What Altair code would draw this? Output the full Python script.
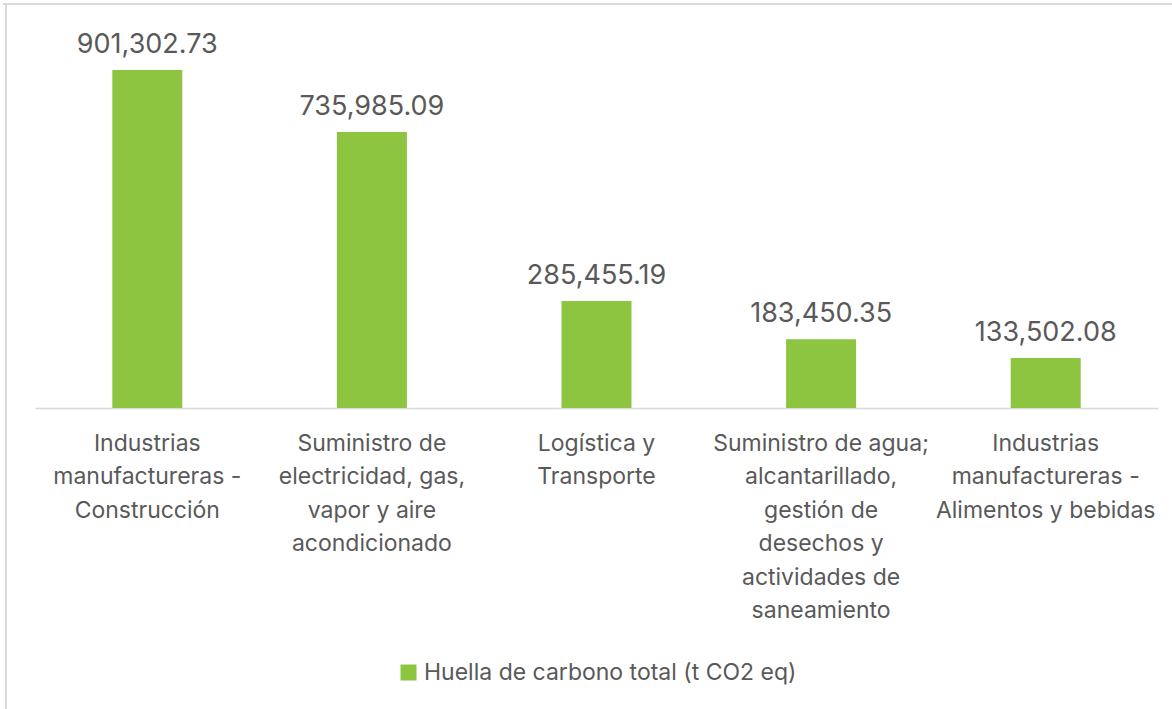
import altair as alt
import pandas as pd

categories = [
    "Industrias|manufactureras -|Construcción",
    "Suministro de|electricidad, gas,|vapor y aire|acondicionado",
    "Logística y|Transporte",
    "Suministro de agua;|alcantarillado,|gestión de|desechos y|actividades de|saneamiento",
    "Industrias|manufactureras -|Alimentos y bebidas",
]
values = [901302.73, 735985.09, 285455.19, 183450.35, 133502.08]
series_name = "Huella de carbono total (t CO2 eq)"

df = pd.DataFrame({"cat": categories, "val": values, "serie": [series_name] * len(values)})

FONT = "Inter"
TXT = "#595959"
GREEN = "#8DC540"

W, H = 1123, 375

x = alt.X("cat:N", sort=None, title=None,
          scale=alt.Scale(paddingInner=0.69, paddingOuter=0.345),
          axis=alt.Axis(labelExpr="split(datum.label, '|')", labelAngle=0,
                        labelFontSize=23, labelColor=TXT, labelFont=FONT,
                        labelLineHeight=33.5, labelPadding=24, ticks=False,
                        domainColor="#D9D9D9", domainWidth=1.5, labelLimit=400))
y = alt.Y("val:Q", scale=alt.Scale(domain=[0, 1000000]), axis=None, title=None)

bars = alt.Chart(df).mark_bar(size=70).encode(
    x=x, y=y,
    color=alt.Color("serie:N", scale=alt.Scale(range=[GREEN]),
                    legend=alt.Legend(title=None, orient="none", legendX=362, legendY=628,
                                      symbolType="square", symbolSize=256, symbolStrokeWidth=0,
                                      labelFontSize=23, labelColor=TXT, labelFont=FONT,
                                      labelLimit=600)),
)

labels = alt.Chart(df).mark_text(baseline="bottom", dy=-11, fontSize=27, color=TXT, font=FONT).encode(
    x=alt.X("cat:N", sort=None), y="val:Q", text=alt.Text("val:Q", format=",.2f")
)

frame_top = alt.Chart(df).mark_rule(color="#D9D9D9", strokeWidth=1.5).encode(
    x=alt.value(-32), x2=alt.value(W + 30), y=alt.value(-29)
)
frame_left = alt.Chart(df).mark_rule(color="#D9D9D9", strokeWidth=1.5).encode(
    x=alt.value(-29), y=alt.value(-29), y2=alt.value(680)
)

chart = alt.layer(frame_top, frame_left, bars, labels).properties(
    width=W, height=H,
    autosize=alt.AutoSizeParams(type="none"),
    padding={"left": 35, "top": 33, "right": 14, "bottom": 301},
    background="white",
).configure_view(stroke=None)

chart.save("out.html", embed_options={"renderer": "svg", "actions": False})
